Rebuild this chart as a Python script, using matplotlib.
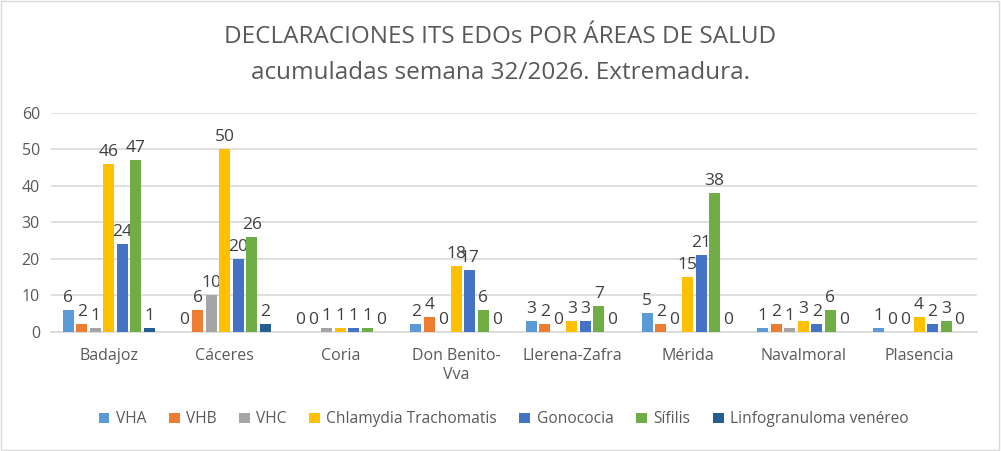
import matplotlib.pyplot as plt
import numpy as np
from matplotlib.patches import Rectangle

areas = ["Badajoz", "Cáceres", "Coria", "Don Benito-\nVva", "Llerena-Zafra",
         "Mérida", "Navalmoral", "Plasencia"]

vha = [6, 0, 0, 2, 3, 5, 1, 1]
vhb = [2, 6, 0, 4, 2, 2, 2, 0]
vhc = [1, 10, 1, 0, 0, 0, 1, 0]
chlamydia = [46, 50, 1, 18, 3, 15, 3, 4]
gonococia = [24, 20, 1, 17, 3, 21, 2, 2]
sifilis = [47, 26, 1, 6, 7, 38, 6, 3]
linfogranuloma = [1, 2, 0, 0, 0, 0, 0, 0]

series = [
    ("VHA", vha, "#5B9BD5"),
    ("VHB", vhb, "#ED7D31"),
    ("VHC", vhc, "#A5A5A5"),
    ("Chlamydia Trachomatis", chlamydia, "#FFC000"),
    ("Gonococia", gonococia, "#4472C4"),
    ("Sífilis", sifilis, "#70AD47"),
    ("Linfogranuloma venéreo", linfogranuloma, "#255E91"),
]

plt.rcParams["font.family"] = ["Open Sans", "DejaVu Sans"]
txt = "#595959"

fig = plt.figure(figsize=(10.01, 4.51), dpi=100)
ax = fig.add_axes([0.051, 0.2645, 0.925, 0.4855])

x = np.arange(len(areas))
step = 0.1166
width = 0.095
for i, (name, vals, col) in enumerate(series):
    pos = x + (i - 3) * step
    bars = ax.bar(pos, vals, width, color=col, label=name, zorder=3)
    ax.bar_label(bars, labels=[str(v) for v in vals], padding=3,
                 fontsize=12.5, color="#404040")

ax.set_xlim(-0.5, len(areas) - 0.5)
ax.set_ylim(0, 60)
ax.set_yticks(range(0, 61, 10))
ax.set_xticks(x)
ax.set_xticklabels(areas)
ax.grid(axis="y", color="#D9D9D9", linewidth=1.2, zorder=0)
for s in ["top", "right", "left"]:
    ax.spines[s].set_visible(False)
ax.spines["bottom"].set_color("#D9D9D9")
ax.spines["bottom"].set_linewidth(1.2)
ax.tick_params(axis="both", length=0, colors=txt, labelsize=11.5)
ax.tick_params(axis="x", pad=12)
ax.tick_params(axis="y", pad=8)

fig.text(0.5, 0.917, "DECLARACIONES ITS EDOs POR ÁREAS DE SALUD",
         ha="center", va="center", fontsize=17.5, color=txt)
fig.text(0.5, 0.838, "acumuladas semana 32/2026. Extremadura.",
         ha="center", va="center", fontsize=17.5, color=txt)

fig.legend(loc="center", bbox_to_anchor=(0.503, 0.07), ncol=7, frameon=False,
           fontsize=11.2, handlelength=0.7, handleheight=0.7, handletextpad=0.4,
           columnspacing=1.45, labelcolor=txt)

fig.patches.append(Rectangle((0.001, 0.002), 0.997, 0.995, transform=fig.transFigure,
                             fill=False, edgecolor="#D9D9D9", linewidth=1))

fig.savefig("out.png", dpi=100)
